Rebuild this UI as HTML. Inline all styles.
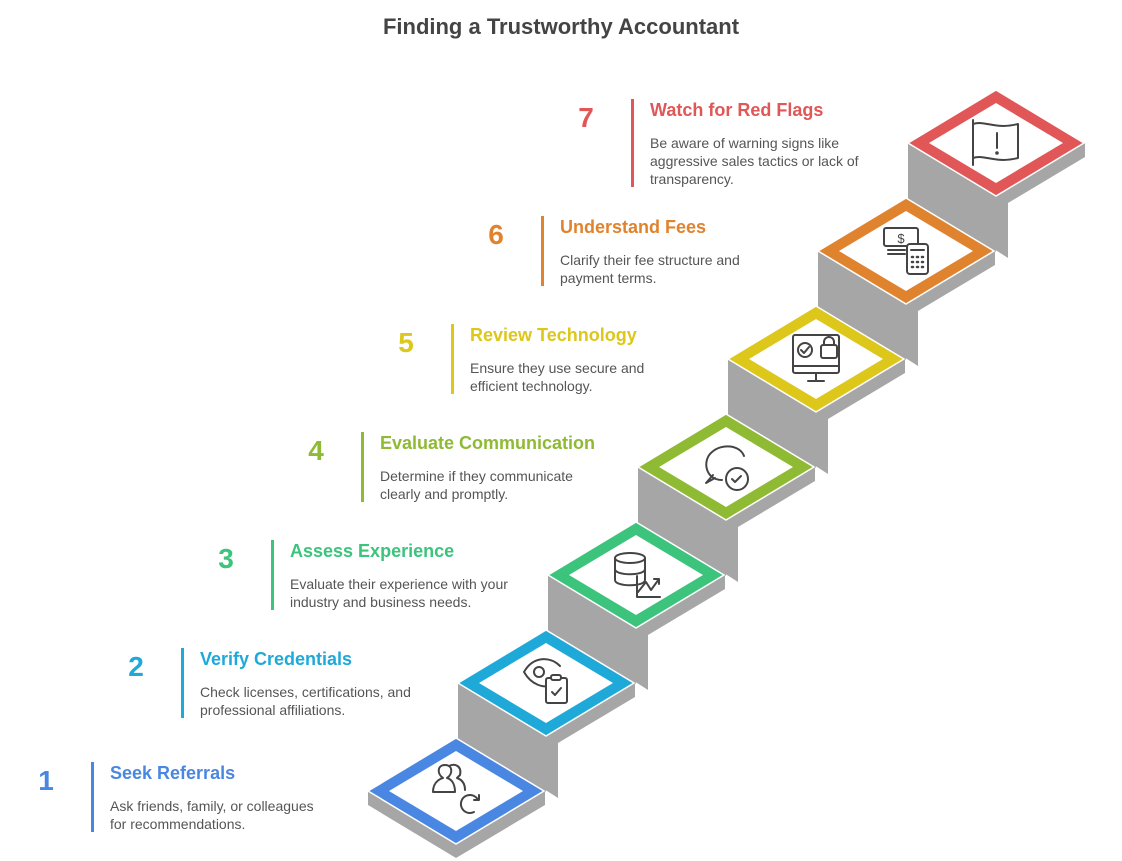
<!DOCTYPE html>
<html><head><meta charset="utf-8"><style>
html,body{margin:0;padding:0;background:#fff;}
svg{display:block;}
text{font-family:"Liberation Sans",Arial,sans-serif;}
</style></head><body>
<svg width="1122" height="861" viewBox="0 0 1122 861" xmlns="http://www.w3.org/2000/svg">
<text x="561" y="34" text-anchor="middle" font-size="22" font-weight="bold" fill="#444">Finding a Trustworthy Accountant</text>
<g fill="#a6a6a6">
<polygon points="908,143 996,196 996,252 908,199"/>
<polygon points="996,196 1084,143 1085,143 1085,157 1008,203 1008,258 994,249"/>
<polygon points="818,251 906,304 906,360 818,307"/>
<polygon points="906,304 994,251 995,251 995,265 918,311 918,366 904,357"/>
<polygon points="728,359 816,412 816,468 728,415"/>
<polygon points="816,412 904,359 905,359 905,373 828,419 828,474 814,465"/>
<polygon points="638,467 726,520 726,576 638,523"/>
<polygon points="726,520 814,467 815,467 815,481 738,527 738,582 724,573"/>
<polygon points="548,575 636,628 636,684 548,631"/>
<polygon points="636,628 724,575 725,575 725,589 648,635 648,690 634,681"/>
<polygon points="458,683 546,736 546,792 458,739"/>
<polygon points="546,736 634,683 635,683 635,697 558,743 558,798 544,789"/>
<polygon points="368,791 368,805 456,858 545,805 545,791 456,844"/>
</g>
<g stroke="#fff" stroke-width="1.5">
<polygon points="996,90 1084,143 996,196 908,143" fill="#e15656"/>
<polygon points="906,198 994,251 906,304 818,251" fill="#e0832f"/>
<polygon points="816,306 904,359 816,412 728,359" fill="#dcc71a"/>
<polygon points="726,414 814,467 726,520 638,467" fill="#8fba34"/>
<polygon points="636,522 724,575 636,628 548,575" fill="#3cc47d"/>
<polygon points="546,630 634,683 546,736 458,683" fill="#1fa9d9"/>
<polygon points="456,738 544,791 456,844 368,791" fill="#4a87e2"/>
</g>
<g fill="#fff">
<polygon points="996,103 1063,143 996,183 929,143"/>
<polygon points="906,211 973,251 906,291 839,251"/>
<polygon points="816,319 883,359 816,399 749,359"/>
<polygon points="726,427 793,467 726,507 659,467"/>
<polygon points="636,535 703,575 636,615 569,575"/>
<polygon points="546,643 613,683 546,723 479,683"/>
<polygon points="456,751 523,791 456,831 389,791"/>
</g>
<g fill="none" stroke="#444" stroke-width="2" stroke-linecap="round" stroke-linejoin="round">
<path d="M973,120 V165 M973,124 C985,120 995,130 1018,124 V158 C995,164 985,154 973,158"/>
<path d="M997,133 V148"/><circle cx="997" cy="153" r="0.8" fill="#444"/>
<rect x="884" y="228" width="34" height="18" rx="2"/><path d="M888,250 H905 M888,254 H905"/>
<text x="901" y="243" font-size="13" fill="#444" stroke="none" text-anchor="middle">$</text>
<rect x="907" y="244" width="21" height="30" rx="3" fill="#fff"/>
<path d="M911,250 H924" /><g stroke-width="2.5"><path d="M912,257 h1 M917,257 h1 M922,257 h1 M912,262 h1 M917,262 h1 M922,262 h1 M912,267 h1 M917,267 h1 M922,267 h1"/></g>
<rect x="793" y="335" width="46" height="38" rx="2"/><path d="M793,366 H839 M816,373 V381 M808,381 H824"/>
<circle cx="805" cy="350" r="7"/><path d="M801,350 l3,3 l5,-6"/>
<rect x="821" y="345" width="16" height="13" rx="2" fill="#fff"/><path d="M824,345 v-3 a5,5 0 0 1 10,0 v3"/>
<path d="M722,480 C705,480 702,460 712,452 C722,443 740,445 744,456 M715,478 L706,483 L713,475"/>
<circle cx="737" cy="479" r="11" fill="#fff"/><path d="M732,479 l3,3 l6,-6"/>
<ellipse cx="630" cy="558" rx="15" ry="5"/><path d="M615,558 V580 C615,587 645,587 645,580 V558 M615,569 C615,576 645,576 645,569"/>
<path d="M637,576 V597 H660 M638,592 L646,582 L651,590 L659,579 M654,579 H659 V584"/>
<path d="M524,672 C533,656 550,656 560,666 M524,672 C532,686 544,687 548,686"/><circle cx="539" cy="672" r="5"/>
<rect x="546" y="678" width="21" height="25" rx="2" fill="#fff"/><rect x="551" y="675" width="10" height="5" rx="2" fill="#fff"/>
<path d="M552,692 l3,3 l6,-7"/>
<path d="M433,792 C433,780 443,778 443,778 C437,774 437,765 445,765 C453,765 453,774 447,778 C451,779 455,783 455,792 Z"/>
<path d="M449,766 C455,763 462,766 460,775 L457,778 C463,780 465,785 465,790"/>
<path d="M478,800 A9,9 0 1 0 474,812 M474,800 H479 V795"/>
</g>
<g font-size="14" fill="#555">
<rect x="91" y="762" width="3" height="70" fill="#4a87e2"/>
<text x="46" y="790" font-size="28" font-weight="bold" fill="#4a87e2" text-anchor="middle">1</text>
<text x="110" y="779" font-size="18" font-weight="bold" fill="#4a87e2">Seek Referrals</text>
<text x="110" y="811">Ask friends, family, or colleagues</text><text x="110" y="829">for recommendations.</text>

<rect x="181" y="648" width="3" height="70" fill="#1fa9d9"/>
<text x="136" y="676" font-size="28" font-weight="bold" fill="#1fa9d9" text-anchor="middle">2</text>
<text x="200" y="665" font-size="18" font-weight="bold" fill="#1fa9d9">Verify Credentials</text>
<text x="200" y="697">Check licenses, certifications, and</text><text x="200" y="715">professional affiliations.</text>

<rect x="271" y="540" width="3" height="70" fill="#3cc47d"/>
<text x="226" y="568" font-size="28" font-weight="bold" fill="#3cc47d" text-anchor="middle">3</text>
<text x="290" y="557" font-size="18" font-weight="bold" fill="#3cc47d">Assess Experience</text>
<text x="290" y="589">Evaluate their experience with your</text><text x="290" y="607">industry and business needs.</text>

<rect x="361" y="432" width="3" height="70" fill="#8fba34"/>
<text x="316" y="460" font-size="28" font-weight="bold" fill="#8fba34" text-anchor="middle">4</text>
<text x="380" y="449" font-size="18" font-weight="bold" fill="#8fba34">Evaluate Communication</text>
<text x="380" y="481">Determine if they communicate</text><text x="380" y="499">clearly and promptly.</text>

<rect x="451" y="324" width="3" height="70" fill="#dcc71a"/>
<text x="406" y="352" font-size="28" font-weight="bold" fill="#dcc71a" text-anchor="middle">5</text>
<text x="470" y="341" font-size="18" font-weight="bold" fill="#dcc71a">Review Technology</text>
<text x="470" y="373">Ensure they use secure and</text><text x="470" y="391">efficient technology.</text>

<rect x="541" y="216" width="3" height="70" fill="#e0832f"/>
<text x="496" y="244" font-size="28" font-weight="bold" fill="#e0832f" text-anchor="middle">6</text>
<text x="560" y="233" font-size="18" font-weight="bold" fill="#e0832f">Understand Fees</text>
<text x="560" y="265">Clarify their fee structure and</text><text x="560" y="283">payment terms.</text>

<rect x="631" y="99" width="3" height="88" fill="#e15656"/>
<text x="586" y="127" font-size="28" font-weight="bold" fill="#e15656" text-anchor="middle">7</text>
<text x="650" y="116" font-size="18" font-weight="bold" fill="#e15656">Watch for Red Flags</text>
<text x="650" y="148">Be aware of warning signs like</text><text x="650" y="166">aggressive sales tactics or lack of</text><text x="650" y="184">transparency.</text>
</g>
</svg>
</body></html>
